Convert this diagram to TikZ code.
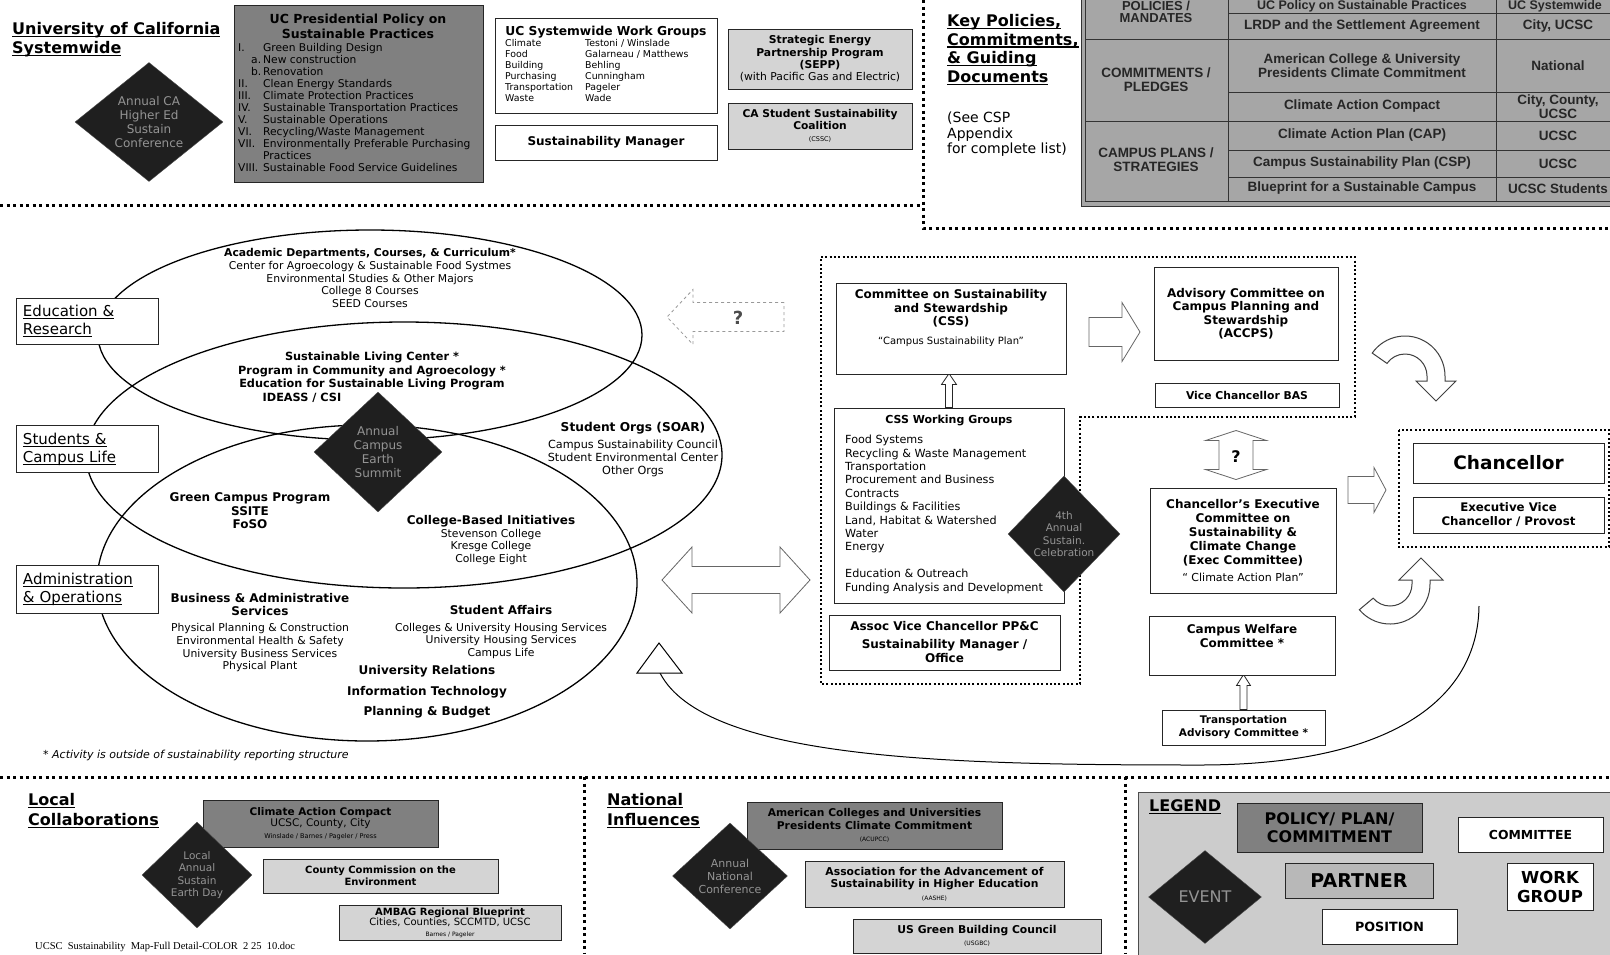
\documentclass[tikz,border=0pt]{standalone}
\usepackage{fontspec}
\setmainfont{DejaVu Sans}
\newfontfamily\tablefont{Liberation Sans}
\newfontfamily\docfont{Liberation Serif}
\usetikzlibrary{shapes.geometric}
\pgfdeclarelayer{edgelayer}
\pgfdeclarelayer{nodelayer}
\pgfsetlayers{edgelayer,nodelayer,main}
\newcommand{\fsz}[2]{\fontsize{#1}{#2}\selectfont}
\newcommand{\uln}[1]{\leavevmode\setbox0\hbox{#1}\rlap{\rule[-2.6pt]{\wd0}{1.2pt}}\box0}
% block arrow: style, tail, angle, length, shaft, head width, head length
\newcommand{\blockarrow}[7]{%
  \begin{scope}[shift={(#2)},rotate=#3]
    \draw[#1] (0,{#5/2}) -- ({#4-#7},{#5/2}) -- ({#4-#7},{#6/2}) -- (#4,0)
      -- ({#4-#7},{-#6/2}) -- ({#4-#7},{-#5/2}) -- (0,{-#5/2}) -- cycle;
  \end{scope}}
% double block arrow: style, centre, angle, length, shaft, head width, head length
\newcommand{\doublearrow}[7]{%
  \begin{scope}[shift={(#2)},rotate=#3]
    \draw[#1] ({-#4/2},0) -- ({-#4/2+#7},{#6/2}) -- ({-#4/2+#7},{#5/2})
      -- ({#4/2-#7},{#5/2}) -- ({#4/2-#7},{#6/2}) -- ({#4/2},0)
      -- ({#4/2-#7},{-#6/2}) -- ({#4/2-#7},{-#5/2}) -- ({-#4/2+#7},{-#5/2})
      -- ({-#4/2+#7},{-#6/2}) -- cycle;
  \end{scope}}
\tikzstyle{plain_box}=[draw=black!85,line width=0.9pt,fill=white,align=center,inner sep=2pt]
\tikzstyle{policy_box}=[plain_box,fill=black!50]
\tikzstyle{partner_box}=[plain_box,fill=black!17]
\tikzstyle{event}=[diamond,draw=black!70,fill=black!88,text=black!42,align=center,inner sep=0pt,font=\fsz{12}{14}]
\tikzstyle{area_box}=[plain_box,align=left,text width=128pt,inner sep=7pt,minimum height=46pt,font=\fsz{15}{18}]
\tikzstyle{heading}=[anchor=north west,align=left,inner sep=0pt,font=\bfseries\fsz{16}{19}]
\tikzstyle{ring}=[ellipse,draw=black,line width=1.3pt,inner sep=0pt]
\tikzstyle{txt}=[align=center,inner sep=0pt,font=\fsz{10.8}{12.8}]
\tikzstyle{bold_txt}=[txt,font=\bfseries\fsz{12}{13.5}]
\tikzstyle{cell}=[align=center,inner sep=0pt,text=black!85,font=\tablefont\bfseries\fsz{13.5}{14}]
\tikzstyle{table_line}=[draw=black!80,line width=1pt]
\tikzstyle{block_arrow}=[draw=black!60,fill=white,line width=0.8pt]
\tikzstyle{thin_arrow}=[draw=black!85,fill=white,line width=0.8pt]
\tikzstyle{question_arrow}=[draw=black!40,dashed,line width=0.8pt]
\tikzstyle{bend_arrow}=[draw=black!75,fill=white,line width=1pt]
\tikzstyle{feedback}=[draw=black,line width=1pt]
\tikzstyle{section_rule}=[line width=3pt,dash pattern=on 3pt off 3.5pt]
\tikzstyle{group_rule}=[line width=2pt,dash pattern=on 2pt off 2.3pt]

\begin{document}
\begin{tikzpicture}[x=1pt,y=-1pt]
	\useasboundingbox (0,0) rectangle (1610,954);
	\begin{pgfonlayer}{nodelayer}
		% University of California Systemwide
		\node [style=heading] (0) at (12,22) {\uln{University of California}\\\uln{Systemwide}};
		\node [style=event, minimum width=148pt, minimum height=119pt, aspect=1.25] (1) at (149,122) {Annual CA\\Higher Ed\\Sustain\\Conference};
		\node [style=policy_box, minimum width=249pt, minimum height=177pt] (2) at (358.5,93.5) {};
		\node [style=bold_txt, font=\bfseries\fsz{12.5}{15}] (3) at (358,26) {UC Presidential Policy on\\Sustainable Practices};
		\node [anchor=north west, inner sep=0pt, font=\fsz{10.7}{12}] (4) at (238,43) {\begin{tabular}{@{}p{25pt}@{}l@{}}
			I. & Green Building Design\\
			\hspace{13pt}a. & New construction\\
			\hspace{13pt}b. & Renovation\\
			II. & Clean Energy Standards\\
			III. & Climate Protection Practices\\
			IV. & Sustainable Transportation Practices\\
			V. & Sustainable Operations\\
			VI. & Recycling/Waste Management\\
			VII. & Environmentally Preferable Purchasing\\
			 & Practices\\
			VIII. & Sustainable Food Service Guidelines
		\end{tabular}};
		\node [style=plain_box, minimum width=222pt, minimum height=95pt] (5) at (606,65.5) {};
		\node [style=bold_txt, font=\bfseries\fsz{12.3}{14}] (6) at (606,32) {UC Systemwide Work Groups};
		\node [anchor=north west, inner sep=0pt, font=\fsz{9.4}{11}] (7) at (505,39) {\begin{tabular}{@{}p{80pt}@{}l@{}}
			Climate & Testoni / Winslade\\
			Food & Galarneau / Matthews\\
			Building & Behling\\
			Purchasing & Cunningham\\
			Transportation & Pageler\\
			Waste & Wade
		\end{tabular}};
		\node [style=plain_box, minimum width=222pt, minimum height=35pt, font=\bfseries\fsz{12}{14}] (8) at (606,142.5) {Sustainability Manager};
		\node [style=partner_box, minimum width=184pt, minimum height=60pt, font=\fsz{10.8}{12.3}] (9) at (820,59) {\textbf{Strategic Energy}\\\textbf{Partnership Program}\\\textbf{(SEPP)}\\(with Pacific Gas and Electric)};
		\node [style=partner_box, minimum width=184pt, minimum height=46pt, font=\bfseries\fsz{10.7}{12.3}] (10) at (820,126) {CA Student Sustainability\\Coalition\\{\mdseries\fsz{6.5}{8}(CSSC)}};

		% Key policies
		\node [style=heading, font=\bfseries\fsz{16}{18.7}] (11) at (947,14) {\uln{Key Policies,}\\\uln{Commitments,}\\\uln{\& Guiding}\\\uln{Documents}};
		\node [anchor=north west, align=left, inner sep=0pt, font=\fsz{14}{15.5}] (12) at (947,112) {(See CSP\\Appendix\\for complete list)};
		\node [style=cell, font=\tablefont\bfseries\fsz{13}{12.5}] (13) at (1156,12) {POLICIES /\\MANDATES};
		\node [style=cell, font=\tablefont\bfseries\fsz{12.5}{13}] (14) at (1362,6.5) {UC Policy on Sustainable Practices};
		\node [style=cell, font=\tablefont\bfseries\fsz{12.5}{13}] (15) at (1555,6.5) {UC Systemwide};
		\node [style=cell] (16) at (1362,26) {LRDP and the Settlement Agreement};
		\node [style=cell] (17) at (1558,26) {City, UCSC};
		\node [style=cell] (18) at (1156,80) {COMMITMENTS /\\PLEDGES};
		\node [style=cell] (19) at (1362,65.5) {American College \& University\\Presidents Climate Commitment};
		\node [style=cell] (20) at (1558,65.5) {National};
		\node [style=cell] (21) at (1362,106.5) {Climate Action Compact};
		\node [style=cell] (22) at (1558,106.5) {City, County,\\UCSC};
		\node [style=cell] (23) at (1156,160) {CAMPUS PLANS /\\STRATEGIES};
		\node [style=cell] (24) at (1362,135.5) {Climate Action Plan (CAP)};
		\node [style=cell] (25) at (1558,135.5) {UCSC};
		\node [style=cell] (26) at (1362,163.5) {Campus Sustainability Plan (CSP)};
		\node [style=cell] (27) at (1558,163.5) {UCSC};
		\node [style=cell] (28) at (1362,188.5) {Blueprint for a Sustainable Campus};
		\node [style=cell] (29) at (1558,188.5) {UCSC Students};

		% campus areas
		\node [style=area_box] (30) at (87,321) {\uln{Education \&}\\\uln{Research}};
		\node [style=area_box] (31) at (87,449) {\uln{Students \&}\\\uln{Campus Life}};
		\node [style=area_box, minimum height=48pt] (32) at (87,589) {\uln{Administration}\\\uln{\& Operations}};
		\node [style=txt] (36) at (370,278) {{\bfseries Academic Departments, Courses, \& Curriculum*}\\Center for Agroecology \& Sustainable Food Systmes\\Environmental Studies \& Other Majors\\College 8 Courses\\SEED Courses};
		\node [style=bold_txt, font=\bfseries\fsz{11.3}{13.5}] (37) at (372,371) {Sustainable Living Center *\\Program in Community and Agroecology *\\Education for Sustainable Living Program};
		\node [style=bold_txt, font=\bfseries\fsz{11.3}{13.5}] (38) at (302,398) {IDEASS / CSI};
		\node [style=event, minimum width=128pt, minimum height=120pt] (39) at (378,452) {Annual\\Campus\\Earth\\Summit};
		\node [style=txt, font=\fsz{11.2}{13}] (40) at (633,450) {{\bfseries\fsz{12.2}{13}Student Orgs (SOAR)}\\[4pt]Campus Sustainability Council\\Student Environmental Center\\Other Orgs};
		\node [style=bold_txt] (41) at (250,511) {Green Campus Program\\SSITE\\FoSO};
		\node [style=txt] (42) at (491,540) {{\bfseries\fsz{12}{13}College-Based Initiatives}\\Stevenson College\\Kresge College\\College Eight};
		\node [style=txt] (43) at (260,633) {{\bfseries\fsz{12}{14}Business \& Administrative}\\{\bfseries\fsz{12}{14}Services}\\[3pt]Physical Planning \& Construction\\Environmental Health \& Safety\\University Business Services\\Physical Plant};
		\node [style=txt] (44) at (501,632) {{\bfseries\fsz{12}{13}Student Affairs}\\[4pt]Colleges \& University Housing Services\\University Housing Services\\Campus Life};
		\node [style=bold_txt, font=\bfseries\fsz{12}{20.5}] (45) at (427,692) {University Relations\\Information Technology\\Planning \& Budget};
		\node [anchor=west, inner sep=0pt, font=\itshape\fsz{11}{13}] (46) at (43,755) {* Activity is outside of sustainability reporting structure};
		\node [font=\bfseries\fsz{18}{20}, text=black!70] (48) at (738,318) {?};

		% committees
		\node [style=plain_box, minimum width=230pt, minimum height=91pt] (50) at (951,328.5) {};
		\node [style=bold_txt] (51) at (951,318) {Committee on Sustainability\\and Stewardship\\(CSS)\\[5pt]{\mdseries\fsz{10}{12}``Campus Sustainability Plan''}};
		\node [style=plain_box, minimum width=184pt, minimum height=93pt, font=\bfseries\fsz{12}{13.5}] (52) at (1246,313.5) {Advisory Committee on\\Campus Planning and\\Stewardship\\(ACCPS)};
		\node [style=plain_box, minimum width=184pt, minimum height=24pt, font=\bfseries\fsz{10.8}{13}] (53) at (1247,395) {Vice Chancellor BAS};
		\node [style=plain_box, minimum width=230pt, minimum height=195pt] (54) at (949,505.5) {};
		\node [style=bold_txt, font=\bfseries\fsz{11}{13}] (55) at (949,420) {CSS Working Groups};
		\node [anchor=north west, align=left, inner sep=0pt, font=\fsz{11.2}{13.4}] (56) at (845,435) {Food Systems\\Recycling \& Waste Management\\Transportation\\Procurement and Business\\Contracts\\Buildings \& Facilities\\Land, Habitat \& Watershed\\Water\\Energy\\[13.4pt]Education \& Outreach\\Funding Analysis and Development};
		\node [style=event, minimum width=112pt, minimum height=116pt, aspect=0.97, font=\fsz{10.5}{12.5}] (57) at (1064,534) {4th\\Annual\\Sustain.\\Celebration};
		\node [style=plain_box, minimum width=231pt, minimum height=55pt, font=\bfseries\fsz{12}{14}] (58) at (944.5,642.5) {Assoc Vice Chancellor PP\&C\\[4pt]Sustainability Manager /\\Office};
		\node [font=\bfseries\fsz{16}{18}] (61) at (1236,457) {?};
		\node [style=plain_box, minimum width=186pt, minimum height=105pt, font=\bfseries\fsz{12}{14}] (62) at (1243,540.5) {Chancellor's Executive\\Committee on\\Sustainability \&\\Climate Change\\(Exec Committee)\\[3pt]{\mdseries\fsz{11}{13}`` Climate Action Plan''}};
		\node [style=plain_box, minimum width=186pt, minimum height=59pt] (63) at (1242,645.5) {};
		\node [style=bold_txt] (64) at (1242,636) {Campus Welfare\\Committee *};
		\node [style=plain_box, minimum width=163pt, minimum height=35pt, font=\bfseries\fsz{10.5}{13}] (65) at (1243.5,727.5) {Transportation\\Advisory Committee *};
		\node [style=plain_box, minimum width=191pt, minimum height=40pt, font=\bfseries\fsz{18.5}{22}] (66) at (1508.5,463) {Chancellor};
		\node [style=plain_box, minimum width=191pt, minimum height=36pt, font=\bfseries\fsz{11.8}{14}] (67) at (1508.5,515) {Executive Vice\\Chancellor / Provost};

		% local collaborations
		\node [style=heading, font=\bfseries\fsz{16}{20}] (69) at (28,793) {\uln{Local}\\\uln{Collaborations}};
		\node [style=policy_box, minimum width=235pt, minimum height=47pt, font=\fsz{10.5}{11.5}] (70) at (320.5,823.5) {\textbf{Climate Action Compact}\\UCSC, County, City\\{\fsz{6.5}{8}Winslade / Barnes / Pageler / Press}};
		\node [style=event, minimum width=110pt, minimum height=106pt, font=\fsz{10.5}{12.5}] (71) at (197,875) {Local\\Annual\\Sustain\\Earth Day};
		\node [style=partner_box, minimum width=235pt, minimum height=34pt, font=\bfseries\fsz{10}{12}] (72) at (380.5,876) {County Commission on the\\Environment};
		\node [style=partner_box, minimum width=222pt, minimum height=35pt, font=\fsz{10}{10.5}] (73) at (450,922.5) {\textbf{AMBAG Regional Blueprint}\\Cities, Counties, SCCMTD, UCSC\\{\fsz{6}{7}Barnes / Pageler}};
		\node [anchor=west, inner sep=0pt, font=\docfont\fsz{10.5}{12}] (74) at (35,947) {UCSC\ \ Sustainability\ \ Map-Full Detail-COLOR\ \ 2\ 25\ \ 10.doc};

		% national influences
		\node [style=heading, font=\bfseries\fsz{16}{20}] (75) at (607,793) {\uln{National}\\\uln{Influences}};
		\node [style=policy_box, minimum width=255pt, minimum height=47pt, font=\bfseries\fsz{10.7}{12.5}] (76) at (874.5,825.5) {American Colleges and Universities\\Presidents Climate Commitment\\{\mdseries\fsz{6}{7}(ACUPCC)}};
		\node [style=event, minimum width=115pt, minimum height=106pt, aspect=1.1, font=\fsz{11}{13}] (77) at (730,876) {Annual\\National\\Conference};
		\node [style=partner_box, minimum width=259pt, minimum height=46pt, font=\bfseries\fsz{10.8}{12.5}] (78) at (934.5,884) {Association for the Advancement of\\Sustainability in Higher Education\\{\mdseries\fsz{6}{7}(AASHE)}};
		\node [style=partner_box, minimum width=248pt, minimum height=34pt, font=\bfseries\fsz{10.8}{12}] (79) at (977,936) {US Green Building Council\\{\mdseries\fsz{6}{7}(USGBC)}};

		% legend
		\node [anchor=west, inner sep=0pt, font=\bfseries\fsz{16}{19}] (80) at (1149,807) {\uln{LEGEND}};
		\node [style=policy_box, minimum width=185pt, minimum height=49pt, font=\bfseries\fsz{16}{18}] (81) at (1329.5,827.5) {POLICY/ PLAN/\\COMMITMENT};
		\node [style=plain_box, minimum width=145pt, minimum height=35pt, font=\bfseries\fsz{12.4}{14}] (82) at (1530.5,834.5) {COMMITTEE};
		\node [style=event, minimum width=113pt, minimum height=93pt, aspect=1.2, font=\fsz{16}{19}] (83) at (1205,897) {EVENT};
		\node [style=partner_box, fill=black!28, minimum width=148pt, minimum height=35pt, font=\bfseries\fsz{19}{22}] (84) at (1359,880.5) {PARTNER};
		\node [style=plain_box, minimum width=86pt, minimum height=47pt, font=\bfseries\fsz{16.5}{19}] (85) at (1550,886.5) {WORK\\GROUP};
		\node [style=plain_box, minimum width=135pt, minimum height=35pt, font=\bfseries\fsz{12.7}{14}] (86) at (1389.5,926.5) {POSITION};
	\end{pgfonlayer}
	\begin{pgfonlayer}{edgelayer}
		\fill [white] (0,0) rectangle (1610,954);
		% rings
		\node [style=ring, minimum width=544pt, minimum height=210pt] (33) at (370,335) {};
		\node [style=ring, minimum width=636pt, minimum height=266pt] (34) at (404,455) {};
		\node [style=ring, minimum width=540pt, minimum height=316pt] (35) at (367,583) {};
		% section rules
		\draw [style=section_rule] (0,205) -- (923,205);
		\draw [style=section_rule] (923,0) -- (923,228) -- (1610,228);
		\draw [style=section_rule] (0,777) -- (1610,777);
		\draw [style=section_rule] (584,777) -- (584,954);
		\draw [style=section_rule] (1125,777) -- (1125,954);
		% table
		\begin{scope}
			\clip (1078,0) rectangle (1610,215);
			\fill [black!35] (1081,-10) rectangle (1620,206);
			\draw [style=table_line] (1085,-10) -- (1085,201) -- (1620,201);
			\draw [style=table_line] (1081,-10) -- (1081,206) -- (1620,206);
			\draw [style=table_line] (1228,-10) -- (1228,201);
			\draw [style=table_line] (1496,-10) -- (1496,201);
			\draw [style=table_line] (1228,13) -- (1620,13);
			\draw [style=table_line] (1085,39) -- (1620,39);
			\draw [style=table_line] (1228,92) -- (1620,92);
			\draw [style=table_line] (1085,121) -- (1620,121);
			\draw [style=table_line] (1228,150) -- (1620,150);
			\draw [style=table_line] (1228,177) -- (1620,177);
		\end{scope}
		% groups
		\draw [style=group_rule] (821,257) -- (1355,257) -- (1355,417) -- (1080,417) -- (1080,684) -- (821,684) -- cycle;
		\draw [style=group_rule] (1399,430) rectangle (1609,547);
		\draw [draw=black!70, fill=black!20] (1138,792) rectangle (1612,958);
		% arrows
		\coordinate (47) at (784,317);
		\blockarrow{question_arrow}{47}{180}{117}{29}{55}{26}
		\coordinate (49) at (736,580);
		\doublearrow{block_arrow}{49}{0}{148}{27}{66}{30}
		\coordinate (59) at (1089,332);
		\blockarrow{block_arrow}{59}{0}{51}{29}{59}{18}
		\blockarrow{thin_arrow}{54.north}{90}{34}{7}{15}{11}
		\coordinate (60) at (1236,455);
		\doublearrow{block_arrow}{60}{90}{49}{34}{61}{10}
		\blockarrow{thin_arrow}{65.north}{90}{35}{7}{14}{11}
		\coordinate (68) at (1348,490);
		\blockarrow{block_arrow}{68}{0}{38}{27}{45}{12}
		\coordinate (87) at (1405,376);
		\draw [style=bend_arrow] (87) ++(-145:40) arc[start angle=-145,end angle=0,radius=40] -- (1445,381) -- (1456,381) -- (1436,401) -- (1416,381) -- (1427,381) -- (1427,376) arc[start angle=0,end angle=-145,radius=22] -- cycle;
		\coordinate (88) at (1390,584);
		\draw [style=bend_arrow] (88) ++(140:40) arc[start angle=140,end angle=0,radius=40] -- (1430,580) -- (1443,580) -- (1421,558) -- (1399,580) -- (1412,580) -- (1412,584) arc[start angle=0,end angle=140,radius=22] -- cycle;
		\coordinate (89) at (1479,606);
		\coordinate (90) at (660,673);
		\draw [style=feedback] (89) .. controls (1478,700) and (1390,765) .. (1200,765) .. controls (950,765) and (705,760) .. (90);
		\draw [style=feedback, fill=white] (90) ++(-23,0) -- ++(22,-30) -- ++(23,30) -- cycle;
	\end{pgfonlayer}
\end{tikzpicture}
\end{document}
